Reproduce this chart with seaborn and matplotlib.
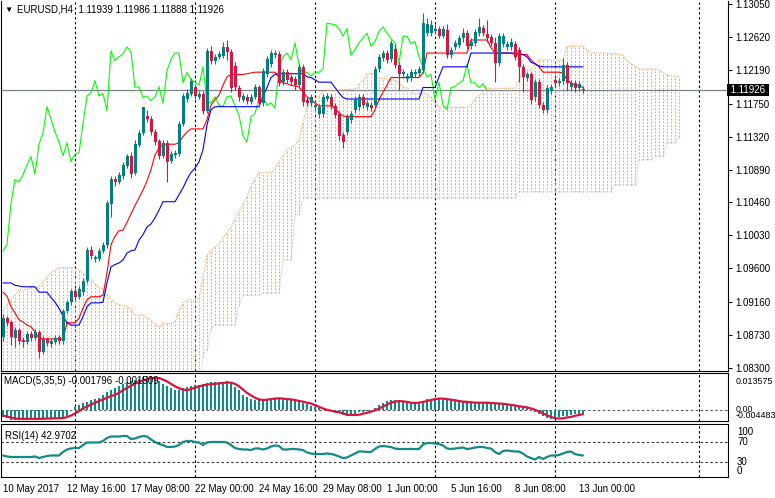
import numpy as np
import pandas as pd
import matplotlib
matplotlib.use("Agg")
import matplotlib.pyplot as plt
import seaborn as sns
from matplotlib.transforms import blended_transform_factory

sns.set_style("white")
plt.rcParams["font.family"] = ["Liberation Sans", "DejaVu Sans"]

# ------------------------------
# EURUSD H4 candles
# ------------------------------
open_ = [1.0871, 1.0895, 1.0890, 1.0869, 1.0880, 1.0867, 1.0864, 1.0875, 1.0869, 1.0877,
         1.0851, 1.0868, 1.0861, 1.0864, 1.0871, 1.0865, 1.0905, 1.0916, 1.0931, 1.0923,
         1.0929, 1.0944, 1.0984, 1.0972, 1.0972, 1.0983, 1.0991, 1.1044, 1.1077, 1.1073,
         1.1081, 1.1094, 1.1106, 1.1085, 1.1121, 1.1137, 1.1159, 1.1155, 1.1138, 1.1126,
         1.1107, 1.1124, 1.1100, 1.1108, 1.1109, 1.1149, 1.1181, 1.1188, 1.1197, 1.1184,
         1.1188, 1.1166, 1.1244, 1.1231, 1.1236, 1.1237, 1.1249, 1.1243, 1.1224, 1.1196,
         1.1180, 1.1184, 1.1177, 1.1184, 1.1197, 1.1176, 1.1214, 1.1227, 1.1239, 1.1240,
         1.1203, 1.1216, 1.1210, 1.1207, 1.1199, 1.1223, 1.1180, 1.1176, 1.1171, 1.1162,
         1.1162, 1.1181, 1.1184, 1.1172, 1.1162, 1.1134, 1.1138, 1.1154, 1.1167, 1.1171,
         1.1184, 1.1171, 1.1173, 1.1173, 1.1220, 1.1235, 1.1241, 1.1233, 1.1246, 1.1226,
         1.1213, 1.1207, 1.1209, 1.1214, 1.1215, 1.1219, 1.1267, 1.1267, 1.1270, 1.1273,
         1.1263, 1.1271, 1.1238, 1.1249, 1.1252, 1.1260, 1.1267, 1.1250, 1.1254, 1.1267,
         1.1274, 1.1266, 1.1262, 1.1254, 1.1228, 1.1253, 1.1249, 1.1249, 1.1253, 1.1245,
         1.1223, 1.1209, 1.1213, 1.1183, 1.1203, 1.1173, 1.1167, 1.1192, 1.1206, 1.1202,
         1.1205, 1.1226, 1.1197, 1.1202, 1.1196, 1.11939]
high = [1.0901, 1.0898, 1.0893, 1.0884, 1.0882, 1.0871, 1.0878, 1.0878, 1.0881, 1.0880,
        1.0872, 1.0871, 1.0869, 1.0873, 1.0873, 1.0907, 1.0919, 1.0933, 1.0935, 1.0937,
        1.0948, 1.0988, 1.0989, 1.0978, 1.0987, 1.0995, 1.1049, 1.1081, 1.1081, 1.1086,
        1.1099, 1.1109, 1.1112, 1.1128, 1.1141, 1.1162, 1.1167, 1.1159, 1.1142, 1.1129,
        1.1128, 1.1128, 1.1113, 1.1115, 1.1152, 1.1189, 1.1194, 1.1209, 1.1201, 1.1192,
        1.1192, 1.1248, 1.1250, 1.1240, 1.1244, 1.1256, 1.1258, 1.1246, 1.1229, 1.1199,
        1.1189, 1.1188, 1.1188, 1.1201, 1.1199, 1.1222, 1.1237, 1.1245, 1.1245, 1.1244,
        1.1220, 1.1220, 1.1214, 1.1211, 1.1227, 1.1227, 1.1184, 1.1188, 1.1180, 1.1175,
        1.1188, 1.1189, 1.1188, 1.1176, 1.1166, 1.1138, 1.1162, 1.1166, 1.1185, 1.1188,
        1.1188, 1.1180, 1.1177, 1.1224, 1.1240, 1.1245, 1.1245, 1.1258, 1.1253, 1.1229,
        1.1220, 1.1215, 1.1220, 1.1220, 1.1224, 1.1293, 1.1287, 1.1284, 1.1279, 1.1276,
        1.1276, 1.1279, 1.1249, 1.1258, 1.1265, 1.1274, 1.1271, 1.1260, 1.1273, 1.1287,
        1.1278, 1.1284, 1.1266, 1.1262, 1.1267, 1.1267, 1.1257, 1.1260, 1.1257, 1.1249,
        1.1227, 1.1216, 1.1216, 1.1207, 1.1207, 1.1177, 1.1199, 1.1201, 1.1210, 1.1209,
        1.1235, 1.1229, 1.1206, 1.1206, 1.1205, 1.11986]
low = [1.0865, 1.0885, 1.0860, 1.0858, 1.0861, 1.0858, 1.0861, 1.0865, 1.0867, 1.0843,
       1.0848, 1.0859, 1.0858, 1.0861, 1.0861, 1.0861, 1.0902, 1.0912, 1.0919, 1.0920,
       1.0925, 1.0941, 1.0972, 1.0968, 1.0970, 1.0980, 1.0987, 1.1027, 1.1068, 1.1070,
       1.1077, 1.1091, 1.1078, 1.1082, 1.1119, 1.1134, 1.1151, 1.1134, 1.1121, 1.1103,
       1.1104, 1.1073, 1.1098, 1.1104, 1.1107, 1.1146, 1.1177, 1.1185, 1.1181, 1.1181,
       1.1162, 1.1163, 1.1227, 1.1227, 1.1233, 1.1235, 1.1232, 1.1190, 1.1193, 1.1179,
       1.1177, 1.1175, 1.1175, 1.1181, 1.1171, 1.1172, 1.1210, 1.1223, 1.1235, 1.1198,
       1.1199, 1.1202, 1.1199, 1.1193, 1.1196, 1.1172, 1.1172, 1.1172, 1.1167, 1.1156,
       1.1158, 1.1179, 1.1168, 1.1156, 1.1128, 1.1117, 1.1134, 1.1150, 1.1163, 1.1167,
       1.1169, 1.1167, 1.1166, 1.1169, 1.1216, 1.1231, 1.1228, 1.1229, 1.1222, 1.1193,
       1.1209, 1.1203, 1.1205, 1.1210, 1.1211, 1.1215, 1.1263, 1.1263, 1.1266, 1.1260,
       1.1260, 1.1235, 1.1235, 1.1245, 1.1248, 1.1256, 1.1246, 1.1246, 1.1250, 1.1263,
       1.1263, 1.1256, 1.1250, 1.1203, 1.1224, 1.1249, 1.1245, 1.1245, 1.1232, 1.1203,
       1.1190, 1.1205, 1.1175, 1.1179, 1.1169, 1.1163, 1.1163, 1.1188, 1.1198, 1.1198,
       1.1201, 1.1193, 1.1193, 1.1190, 1.1192, 1.11888]
close = [1.0895, 1.0889, 1.0871, 1.0880, 1.0865, 1.0864, 1.0875, 1.0869, 1.0877, 1.0851,
         1.0868, 1.0863, 1.0865, 1.0869, 1.0865, 1.0905, 1.0916, 1.0931, 1.0923, 1.0933,
         1.0944, 1.0984, 1.0976, 1.0975, 1.0983, 1.0991, 1.1045, 1.1076, 1.1073, 1.1082,
         1.1095, 1.1106, 1.1083, 1.1122, 1.1137, 1.1171, 1.1155, 1.1138, 1.1125, 1.1107,
         1.1124, 1.1099, 1.1109, 1.1111, 1.1149, 1.1185, 1.1189, 1.1205, 1.1185, 1.1188,
         1.1166, 1.1244, 1.1231, 1.1236, 1.1240, 1.1249, 1.1243, 1.1196, 1.1197, 1.1183,
         1.1185, 1.1179, 1.1184, 1.1197, 1.1176, 1.1218, 1.1233, 1.1241, 1.1241, 1.1202,
         1.1216, 1.1206, 1.1203, 1.1199, 1.1223, 1.1177, 1.1176, 1.1184, 1.1173, 1.1171,
         1.1184, 1.1185, 1.1172, 1.1160, 1.1133, 1.1125, 1.1158, 1.1162, 1.1181, 1.1184,
         1.1173, 1.1176, 1.1169, 1.1220, 1.1236, 1.1241, 1.1232, 1.1254, 1.1226, 1.1213,
         1.1216, 1.1211, 1.1216, 1.1216, 1.1220, 1.1280, 1.1279, 1.1278, 1.1273, 1.1263,
         1.1273, 1.1238, 1.1245, 1.1254, 1.1261, 1.1267, 1.1250, 1.1256, 1.1269, 1.1275,
         1.1267, 1.1260, 1.1254, 1.1228, 1.1263, 1.1263, 1.1253, 1.1256, 1.1236, 1.1223,
         1.1210, 1.1213, 1.1180, 1.1203, 1.1173, 1.1167, 1.1196, 1.1197, 1.1202, 1.1205,
         1.1226, 1.1202, 1.1202, 1.1196, 1.1201, 1.11926]

# Ichimoku lines
tenkan = ([1.0929, 1.0924, 1.0910, 1.0902, 1.0893, 1.0890, 1.0886, 1.0884, 1.0877, 1.0869]
          + [1.0868] * 6 + [1.0889] * 3 + [1.0895, 1.0908, 1.0919] + [1.0923] * 3 + [1.0925]
          + [1.0954, 1.0991, 1.1002, 1.1009, 1.1010, 1.1020, 1.1031, 1.1042, 1.1052, 1.1062,
             1.1074, 1.1089, 1.1108, 1.1117]
          + [1.1122] * 4 + [1.1124, 1.1132, 1.1138] + [1.1142] * 4
          + [1.1154, 1.1173, 1.1180, 1.1186, 1.1199, 1.1210] + [1.1213] * 4 + [1.1214, 1.1215]
          + [1.1216] * 6
          + [1.1209, 1.1202, 1.1201, 1.1199, 1.1198, 1.1197, 1.1190, 1.1184, 1.1180, 1.1176]
          + [1.1172] * 4 + [1.1169, 1.1163, 1.1159] + [1.1158] * 7
          + [1.1167, 1.1180, 1.1190, 1.1199] + [1.1209] * 8 + [1.1215] + [1.1241] * 11
          + [1.1258] * 5 + [1.1248] + [1.1241] * 5 + [1.1239] * 4 + [1.1232, 1.1227, 1.1223]
          + [1.1216] * 5 + [1.1215, 1.1206, 1.1202] + [1.1199] * 2 + [1.1196])
kijun = ([1.0941] * 3 + [1.0938, 1.0937] + [1.0936] * 4 + [1.0929] * 3
         + [1.0922, 1.0916, 1.0908, 1.0898, 1.0889] + [1.0886] * 3 + [1.0897, 1.0910]
         + [1.0915] * 3 + [1.0916]
         + [1.0941, 1.0962, 1.0965, 1.0967, 1.0971, 1.0980, 1.0983, 1.0984, 1.0997, 1.1004,
            1.1014, 1.1018, 1.1026, 1.1036, 1.1047, 1.1047, 1.1047, 1.1047, 1.1056, 1.1065,
            1.1076, 1.1085, 1.1091, 1.1099, 1.1115, 1.1147, 1.1167]
         + [1.1171] * 12 + [1.1184, 1.1196, 1.1209, 1.1213] + [1.1214] * 7
         + [1.1210, 1.1209, 1.1206] + [1.1203] * 4 + [1.1196, 1.1189, 1.1183]
         + [1.1181] * 19 + [1.1196] * 4 + [1.1210] + [1.1223] * 7 + [1.1241] * 13
         + [1.1239, 1.1236, 1.1229, 1.1227, 1.1224] + [1.1223] * 11)
# senkou spans, already shifted 24 bars ahead (170 bars)
span_a = ([1.0906, 1.0912, 1.0919, 1.0925, 1.0932, 1.0932, 1.0933, 1.0935, 1.0935, 1.0936,
           1.0942, 1.0949, 1.0955, 1.0958, 1.0961, 1.0961, 1.0961, 1.0961, 1.0961, 1.0958,
           1.0954, 1.0950, 1.0945, 1.0940]
          + [1.0935, 1.0933, 1.0926, 1.0920, 1.0915, 1.0913, 1.0911, 1.0910, 1.0907, 1.0899,
             1.0899, 1.0899, 1.0895, 1.0892, 1.0888, 1.0883, 1.0889, 1.0888, 1.0888, 1.0891,
             1.0903, 1.0915, 1.0919, 1.0919, 1.0919, 1.0921, 1.0948, 1.0977, 1.0984, 1.0988,
             1.0991, 1.1000, 1.1007, 1.1013, 1.1025, 1.1033, 1.1044, 1.1054, 1.1067, 1.1077,
             1.1085, 1.1085, 1.1085, 1.1085, 1.1090, 1.1099, 1.1107, 1.1114, 1.1117, 1.1121,
             1.1129, 1.1151, 1.1170, 1.1176, 1.1179, 1.1185, 1.1191, 1.1192]
          + [1.1192] * 3 + [1.1193, 1.1193, 1.1194, 1.1194]
          + [1.1200, 1.1206, 1.1213, 1.1215, 1.1212, 1.1208, 1.1208, 1.1207, 1.1206, 1.1206,
             1.1202, 1.1197, 1.1195, 1.1191, 1.1188]
          + [1.1188] * 3 + [1.1183, 1.1176, 1.1171] + [1.1170] * 7
          + [1.1174, 1.1181, 1.1186, 1.1190] + [1.1195] * 8 + [1.1206] + [1.1219] * 3
          + [1.1226] + [1.1232] * 7 + [1.1250] * 5 + [1.1245] + [1.1241] * 5 + [1.1240] * 2
          + [1.1239, 1.1238, 1.1231, 1.1227, 1.1224] + [1.1220] * 5
          + [1.1219, 1.1215, 1.1213] + [1.1211] * 2 + [1.1210])
span_b = ([1.0790] * 50  # below the visible price range
          + [1.0845, 1.0854, 1.0880] + [1.0886] * 6 + [1.0912] + [1.0925] * 5
          + [1.0928] * 5 + [1.0971] * 3 + [1.1030] * 2 + [1.1052] * 54 + [1.1060] * 24
          + [1.1069] * 6 + [1.1102] * 4 + [1.1106] * 3 + [1.1124] * 3 + [1.1132])

# MACD(5,35,5): main (histogram) and signal
macd_main = [-0.0026, -0.0030, -0.0035, -0.0037, -0.0038, -0.0038, -0.0038, -0.0038, -0.0038, -0.0035,
             -0.0032, -0.0032, -0.0032, -0.0032, -0.0032, -0.0030, -0.0020, -0.0002, 0.0010, 0.0018,
             0.0025, 0.0031, 0.0036, 0.0039, 0.0045, 0.0054, 0.0065, 0.0075, 0.0081, 0.0089,
             0.0096, 0.0104, 0.0107, 0.0111, 0.0115, 0.0120, 0.0123, 0.0123, 0.0118, 0.0108,
             0.0096, 0.0087, 0.0080, 0.0075, 0.0075, 0.0080, 0.0084, 0.0089, 0.0092, 0.0093,
             0.0094, 0.0099, 0.0101, 0.0101, 0.0102, 0.0104, 0.0105, 0.0096, 0.0084, 0.0073,
             0.0057, 0.0049, 0.0042, 0.0037, 0.0037, 0.0039, 0.0042, 0.0045, 0.0046, 0.0044,
             0.0042, 0.0039, 0.0037, 0.0035, 0.0032, 0.0027, 0.0021, 0.0015, 0.0010, 0.0006,
             0.0001, -0.0001, -0.0004, -0.0006, -0.0011, -0.0018, -0.0023, -0.0020, -0.0013, -0.0008,
             -0.0006, -0.0005, -0.0001, 0.0008, 0.0018, 0.0027, 0.0032, 0.0037, 0.0037, 0.0033,
             0.0030, 0.0027, 0.0026, 0.0025, 0.0027, 0.0035, 0.0039, 0.0042, 0.0043, 0.0042,
             0.0042, 0.0038, 0.0036, 0.0035, 0.0032, 0.0031, 0.0030, 0.0029, 0.0027, 0.0027,
             0.0027, 0.0026, 0.0025, 0.0023, 0.0023, 0.0021, 0.0019, 0.0018, 0.0017, 0.0014,
             0.0012, 0.0007, -0.0001, -0.0008, -0.0015, -0.0023, -0.0029, -0.0032, -0.0030, -0.0025,
             -0.0020, -0.0020, -0.0018, -0.0015, -0.0014, -0.001796]
macd_signal = [-0.0020, -0.0024, -0.0027, -0.0031, -0.0032, -0.0032, -0.0032, -0.0032, -0.0032, -0.0032,
               -0.0032, -0.0031, -0.0031, -0.0030, -0.0030, -0.0029, -0.0026, -0.0020, -0.0012, -0.0004,
               0.0006, 0.0013, 0.0020, 0.0027, 0.0033, 0.0039, 0.0045, 0.0051, 0.0056, 0.0063,
               0.0073, 0.0081, 0.0089, 0.0096, 0.0104, 0.0108, 0.0113, 0.0117, 0.0118, 0.0117,
               0.0112, 0.0105, 0.0096, 0.0087, 0.0080, 0.0075, 0.0073, 0.0077, 0.0082, 0.0087,
               0.0090, 0.0093, 0.0095, 0.0096, 0.0098, 0.0099, 0.0101, 0.0100, 0.0096, 0.0087,
               0.0075, 0.0063, 0.0054, 0.0045, 0.0039, 0.0037, 0.0038, 0.0040, 0.0042, 0.0043,
               0.0042, 0.0040, 0.0039, 0.0037, 0.0033, 0.0031, 0.0027, 0.0024, 0.0018, 0.0012,
               0.0006, 0.0001, -0.0002, -0.0006, -0.0008, -0.0012, -0.0017, -0.0018, -0.0018, -0.0017,
               -0.0013, -0.0010, -0.0006, -0.0001, 0.0006, 0.0013, 0.0020, 0.0027, 0.0031, 0.0033,
               0.0032, 0.0030, 0.0027, 0.0026, 0.0027, 0.0030, 0.0033, 0.0037, 0.0040, 0.0042,
               0.0042, 0.0040, 0.0038, 0.0036, 0.0033, 0.0031, 0.0030, 0.0029, 0.0027, 0.0027,
               0.0027, 0.0027, 0.0026, 0.0025, 0.0024, 0.0023, 0.0021, 0.0019, 0.0017, 0.0014,
               0.0012, 0.0010, 0.0006, 0.0001, -0.0005, -0.0012, -0.0019, -0.0025, -0.0030, -0.0031,
               -0.0030, -0.0027, -0.0025, -0.0021, -0.0018, -0.001509]

# RSI(14)
rsi = [43, 41, 40, 40, 40, 40, 40, 40, 41, 38,
       40, 42, 43, 43, 43, 50, 55, 57, 58, 58,
       64, 69, 69, 69, 69, 72, 78, 81, 81, 81,
       82, 82, 76, 77, 80, 82, 81, 75, 70, 66,
       64, 60, 60, 61, 64, 70, 72, 72, 70, 69,
       64, 69, 70, 70, 70, 70, 69, 64, 58, 56,
       55, 55, 54, 57, 57, 55, 57, 61, 63, 62,
       55, 55, 56, 56, 55, 54, 49, 47, 46, 46,
       46, 47, 46, 44, 41, 38, 39, 43, 47, 51,
       51, 50, 50, 56, 61, 62, 61, 60, 57, 56,
       56, 56, 56, 56, 56, 65, 68, 68, 67, 66,
       63, 57, 56, 57, 58, 59, 56, 57, 59, 60,
       60, 58, 57, 50, 46, 52, 53, 52, 51, 51,
       47, 41, 38, 35, 40, 36, 40, 43, 43, 44,
       47, 50, 51, 46, 44, 42.9702]

price_ticks = [1.13050, 1.12620, 1.12190, 1.11750, 1.11320, 1.10890,
               1.10460, 1.10030, 1.09600, 1.09160, 1.08730, 1.08300]
time_tick_bars = [0, 16, 32, 48, 64, 80, 96, 112, 128, 144]
time_tick_labels = ["10 May 2017", "12 May 16:00", "17 May 08:00", "22 May 00:00",
                    "24 May 16:00", "29 May 08:00", "1 Jun 00:00", "5 Jun 16:00",
                    "8 Jun 08:00", "13 Jun 00:00"]
week_sep_bars = [18, 48, 78, 108, 138, 174]
last_price = 1.11926
chikou_shift = 24

BULL = "#008080"
BEAR = "#DC143C"

df = pd.DataFrame({"o": open_, "h": high, "l": low, "c": close,
                   "tenkan": tenkan, "kijun": kijun,
                   "macd": macd_main, "signal": macd_signal, "rsi": rsi})
df["bar"] = np.arange(len(df))
cloud = pd.DataFrame({"a": span_a, "b": span_b})
cloud["bar"] = np.arange(len(cloud))

W, H = 775, 498
fig = plt.figure(figsize=(W / 100, H / 100), dpi=100)
ax = fig.add_axes([1 / W, 1 - 371 / H, 727 / W, 370 / H])
ax_m = fig.add_axes([1 / W, 1 - 421 / H, 727 / W, 48 / H], sharex=ax)
ax_r = fig.add_axes([1 / W, 1 - 477 / H, 727 / W, 53 / H], sharex=ax)

dash = (0, (2.2, 2.2))
for a in (ax, ax_m, ax_r):
    for s in a.spines.values():
        s.set_color("black")
        s.set_linewidth(0.8)
    for b in week_sep_bars:
        a.axvline(b, color="black", lw=0.8, ls=dash, zorder=1)
ax.spines["top"].set_visible(False)

# ------------------------------
# 1. Price panel with Ichimoku
# ------------------------------
ax.axhline(last_price, color="#7A8590", lw=0.9, zorder=1)

cloud_col = np.where(cloud["a"] >= cloud["b"], "#F4A460", "#D8BFD8")
ax.vlines(cloud["bar"], cloud["b"], cloud["a"], colors=cloud_col, lw=0.8,
          linestyles=(0, (1.5, 1.5)), zorder=2)
ax.plot(cloud["bar"], cloud["a"], color="#F4A460", lw=0.8, ls=(0, (1, 1)), zorder=2)
ax.plot(cloud["bar"], cloud["b"], color="#D8BFD8", lw=0.8, ls=(0, (1, 1)), zorder=2)

n = len(df)
sns.lineplot(x=df["bar"][: n - chikou_shift].values, y=df["c"][chikou_shift:].values,
             color="#00FF00", lw=0.8, ax=ax, zorder=3)
sns.lineplot(data=df, x="bar", y="tenkan", color="#FF0000", lw=0.8, ax=ax, zorder=3)
sns.lineplot(data=df, x="bar", y="kijun", color="#0000FF", lw=0.8, ax=ax, zorder=3)

col = np.where(df["c"] >= df["o"], BULL, BEAR)
ax.vlines(df["bar"], df["l"], df["h"], colors=col, lw=0.8, zorder=4)
body_lo = np.minimum(df["o"], df["c"])
body_h = np.maximum(np.abs(df["c"] - df["o"]), 0.00004)
ax.bar(df["bar"], body_h, bottom=body_lo, width=0.75, color=col, lw=0, zorder=5)

ax.set_xlim(-0.5, 181.25)
ax.set_ylim(1.08261, 1.13089)
ax.yaxis.tick_right()
ax.set_yticks(price_ticks)
ax.set_yticklabels([f"{v:.5f}" for v in price_ticks])
ax.tick_params(axis="y", direction="out", length=3, width=0.8, pad=2, labelsize=7, colors="black")
ax.tick_params(axis="x", bottom=False, labelbottom=False)
ax.set_xlabel("")
ax.set_ylabel("")
trans = blended_transform_factory(ax.transAxes, ax.transData)
ax.text(1.0, last_price, " 1.11926 ", transform=trans, ha="left", va="center",
        fontsize=7, color="white", zorder=10, clip_on=False,
        bbox=dict(facecolor="black", edgecolor="none", pad=0.6))

fig.text(4 / W, 1 - 10 / H, "\u25BC", fontsize=6, va="center", ha="left", color="black")
fig.text(17 / W, 1 - 10 / H, "EURUSD,H4  1.11939 1.11986 1.11888 1.11926",
         fontsize=7, va="center", ha="left", color="black")

# ------------------------------
# 2. MACD panel
# ------------------------------
ax_m.bar(df["bar"], df["macd"], width=0.7, color="#0E8C8C", lw=0, zorder=2)
ax_m.axhline(0, color="#555555", lw=0.8, ls=dash, zorder=1)
sns.lineplot(data=df, x="bar", y="signal", color=BEAR, lw=1.6, ax=ax_m, zorder=3)
ax_m.set_ylim(-0.0040, 0.013575)
ax_m.set_yticks([])
ax_m.tick_params(axis="x", bottom=False, labelbottom=False)
ax_m.set_xlabel("")
ax_m.set_ylabel("")
ax_m.text(0.004, 0.83, "MACD(5,35,5) -0.001796 -0.001509", transform=ax_m.transAxes,
          fontsize=7, va="center", ha="left", color="black")
for txt, ypx in [("0.013575", 381), ("0.00", 409), ("-0.004483", 416)]:
    fig.text(736 / W, 1 - ypx / H, txt, fontsize=6.4, va="center", ha="left", color="black")

# ------------------------------
# 3. RSI panel
# ------------------------------
ax_r.axhline(70, color="#333333", lw=0.8, ls=dash, zorder=1)
ax_r.axhline(30, color="#333333", lw=0.8, ls=dash, zorder=1)
sns.lineplot(data=df, x="bar", y="rsi", color="#138A8A", lw=1.6, ax=ax_r, zorder=3)
ax_r.set_ylim(0, 106)
ax_r.set_yticks([])
ax_r.set_ylabel("")
ax_r.set_xlabel("")
ax_r.text(0.005, 0.77, "RSI(14) 42.9702", transform=ax_r.transAxes,
          fontsize=7, va="center", ha="left", color="black")
for txt, ypx in [("100", 432), ("70", 442), ("30", 462), ("0", 471)]:
    fig.text(737 / W, 1 - ypx / H, txt, fontsize=7, va="center", ha="left", color="black")

ax_r.set_xticks(time_tick_bars)
ax_r.set_xticklabels(time_tick_labels, ha="left")
ax_r.tick_params(axis="x", direction="out", length=3, width=0.8, pad=2, labelsize=7, colors="black")
ax_r.set_xlim(-0.5, 181.25)

fig.savefig("out.png", dpi=100)
